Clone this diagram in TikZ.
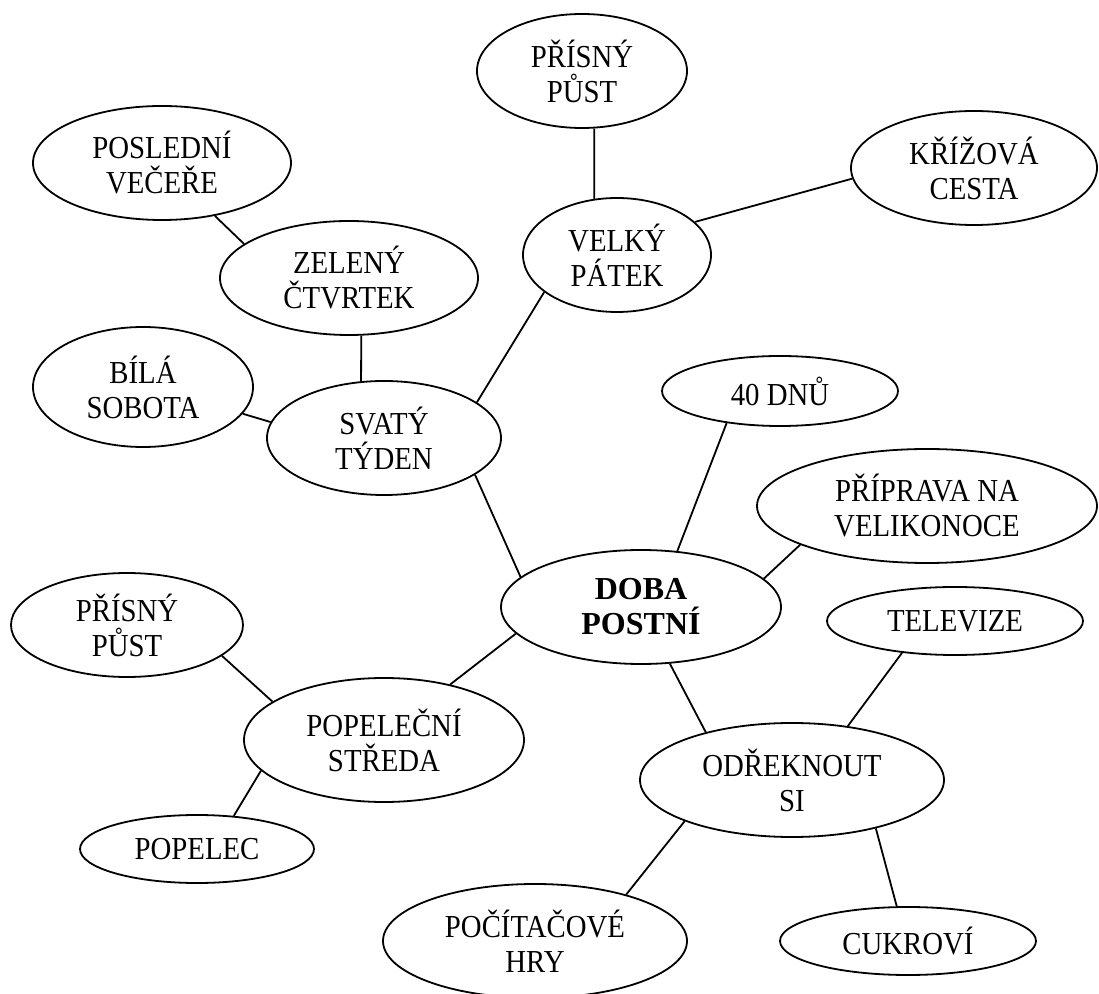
\documentclass[tikz,border=0pt]{standalone}
\usepackage{fontspec}
\setmainfont{Liberation Serif}[FakeStretch=0.9]
\newfontfamily\headfont{Liberation Serif}
\usetikzlibrary{shapes.geometric}

\begin{document}
\begin{tikzpicture}[x=0.5pt, y=-0.5pt,
  bubble/.style={draw, ellipse, line width=0.9pt, inner sep=0pt, align=center,
    font=\fontsize{16}{17.5}\selectfont},
  link/.style={line width=0.9pt}]
  \useasboundingbox (0,0) rectangle (1099,994);

  \node[bubble, minimum width=105pt, minimum height=57pt] (pust1) at (582,71) {PŘÍSNÝ\\PŮST};
  \node[bubble, minimum width=123pt, minimum height=57pt] (krizova) at (974,168) {KŘÍŽOVÁ\\CESTA};
  \node[bubble, minimum width=129pt, minimum height=57pt] (vecere) at (162,163) {POSLEDNÍ\\VEČEŘE};
  \node[bubble, minimum width=94pt, minimum height=57pt] (patek) at (617,255) {VELKÝ\\PÁTEK};
  \node[bubble, minimum width=129pt, minimum height=57pt] (ctvrtek) at (349,278) {ZELENÝ\\ČTVRTEK};
  \node[bubble, minimum width=110pt, minimum height=60pt] (sobota) at (143,387) {BÍLÁ\\SOBOTA};
  \node[bubble, minimum width=117pt, minimum height=57pt] (tyden) at (384,438) {SVATÝ\\TÝDEN};
  \node[bubble, minimum width=118pt, minimum height=35pt] (dny) at (780,391) {40 DNŮ};
  \node[bubble, minimum width=170pt, minimum height=57pt] (priprava) at (927,506) {PŘÍPRAVA NA\\VELIKONOCE};
  \node[bubble, minimum width=140pt, minimum height=57pt, font=\fontsize{16}{17.5}\selectfont\headfont\bfseries] (doba) at (641,607) {DOBA\\POSTNÍ};
  \node[bubble, minimum width=128pt, minimum height=34pt] (televize) at (955,621) {TELEVIZE};
  \node[bubble, minimum width=152pt, minimum height=57pt] (odreknout) at (792,780) {ODŘEKNOUT\\SI};
  \node[bubble, minimum width=116pt, minimum height=52pt] (pust2) at (127,625) {PŘÍSNÝ\\PŮST};
  \node[bubble, minimum width=140pt, minimum height=62pt] (streda) at (384,740) {POPELEČNÍ\\STŘEDA};
  \node[bubble, minimum width=117pt, minimum height=34pt] (popelec) at (197,849) {POPELEC};
  \node[bubble, minimum width=152pt, minimum height=57pt] (hry) at (535,941) {POČÍTAČOVÉ\\HRY};
  \node[bubble, minimum width=128pt, minimum height=34pt] (cukrovi) at (908,941) {CUKROVÍ};

  \foreach \a/\b in {pust1.282/patek.112, patek.23/krizova.185, vecere.315/ctvrtek.162,
      ctvrtek.282/tyden.112, sobota.345/tyden.172, tyden.21/patek.207,
      tyden.338/doba.166, dny.211/doba.57, priprava.197/doba.13,
      doba.192/streda.40, doba.297/odreknout.151, televize.211/odreknout.44,
      pust2.342/streda.161, streda.194/popelec.42, odreknout.201/hry.27,
      odreknout.330/cukrovi.108}
    \draw[link] (\a) -- (\b);
\end{tikzpicture}
\end{document}
